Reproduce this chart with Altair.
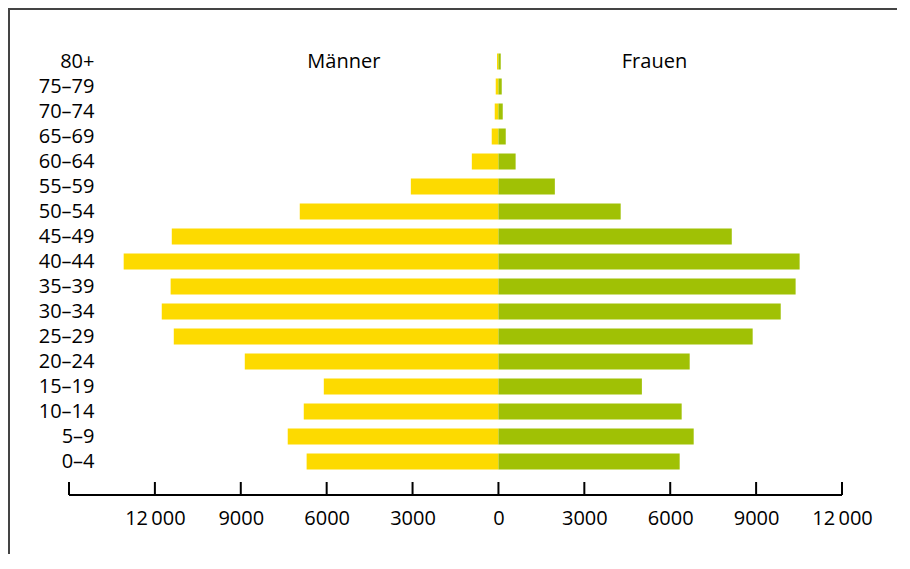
import altair as alt
import pandas as pd

ages = ["80+", "75–79", "70–74", "65–69", "60–64", "55–59", "50–54", "45–49",
        "40–44", "35–39", "30–34", "25–29", "20–24", "15–19", "10–14", "5–9", "0–4"]
maenner = [50, 95, 130, 235, 930, 3060, 6940, 11410, 13090, 11450, 11760, 11340,
           8860, 6100, 6800, 7360, 6700]
frauen = [80, 115, 150, 255, 600, 1970, 4270, 8150, 10520, 10380, 9860, 8880,
          6680, 5010, 6400, 6820, 6330]
tick_values = [-15000, -12000, -9000, -6000, -3000, 0, 3000, 6000, 9000, 12000]
group_labels = ["Männer", "Frauen"]
group_label_x = [-5400, 5450]

YELLOW = "#FDDA00"
GREEN = "#A0C105"
INK = "#000000"
FONT = "Open Sans"
FS = 20

rows = []
for a, m, f in zip(ages, maenner, frauen):
    rows.append({"age": a, "sex": "Männer", "value": -m})
    rows.append({"age": a, "sex": "Frauen", "value": f})
df = pd.DataFrame(rows)

lab_df = pd.DataFrame({"label": group_labels, "x": group_label_x, "age": [ages[0]] * 2})
tick_df = pd.DataFrame({"tick": tick_values})

x_scale = alt.Scale(domain=[tick_values[0], tick_values[-1]], nice=False, zero=False)
y_scale = alt.Scale(domain=ages, paddingInner=0.36, paddingOuter=0.18)

thin = "\u2009"
label_expr = (
    "datum.value == -15000 ? '' : (abs(datum.value) >= 10000 ? "
    "replace(format(abs(datum.value), ','), ',', '" + thin + "') : "
    "format(abs(datum.value), 'd'))"
)

bars = alt.Chart(df).mark_bar().encode(
    x=alt.X("value:Q", scale=x_scale,
            axis=alt.Axis(values=tick_values, labelExpr=label_expr, domain=False,
                          ticks=False, grid=False, title=None, labelPadding=34,
                          labelFontSize=FS, labelFont=FONT, labelColor=INK,
                          labelFlush=False, labelOverlap=False)),
    x2=alt.datum(0),
    y=alt.Y("age:N", sort=ages, scale=y_scale,
            axis=alt.Axis(title=None, domain=False, ticks=False, offset=-25,
                          labelPadding=0, labelFontSize=FS, labelFont=FONT,
                          labelColor=INK)),
    color=alt.Color("sex:N", scale=alt.Scale(domain=["Männer", "Frauen"],
                                             range=[YELLOW, GREEN]), legend=None),
)

texts = alt.Chart(lab_df).mark_text(fontSize=FS, font=FONT, color=INK,
                                    baseline="middle", align="center").encode(
    x="x:Q", y=alt.Y("age:N", sort=ages), text="label:N")

axis_line = alt.Chart(tick_df).mark_rule(color=INK, strokeWidth=2).encode(
    x=alt.datum(tick_values[0]), x2=alt.datum(tick_values[-1]), y=alt.value(446))

ticks = alt.Chart(tick_df).mark_rule(color=INK, strokeWidth=2).encode(
    x="tick:Q", y=alt.value(433), y2=alt.value(446))

frame_top = alt.Chart(tick_df).mark_rule(color="#444444", strokeWidth=2).encode(
    x=alt.value(-61), x2=alt.value(834), y=alt.value(-40))
frame_left = alt.Chart(tick_df).mark_rule(color="#444444", strokeWidth=2).encode(
    x=alt.value(-60), y=alt.value(-41), y2=alt.value(505))

chart = alt.layer(frame_top, frame_left, bars, texts, axis_line, ticks).properties(
    width=773, height=425,
    autosize=alt.AutoSizeParams(type="none"),
    padding={"left": 61, "top": 41, "right": 55, "bottom": 80},
).configure_view(stroke=None)

chart.save("out.html", embed_options={"renderer": "svg", "actions": False})
